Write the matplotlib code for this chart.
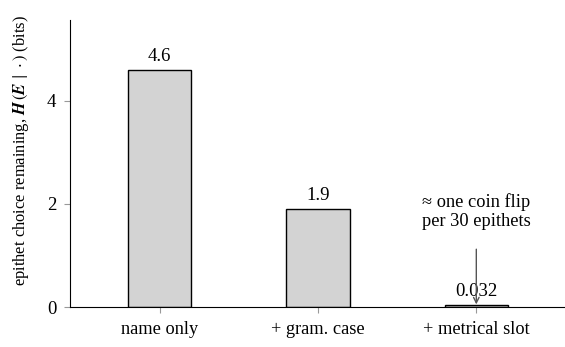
import matplotlib as mpl
mpl.use('Agg')
import matplotlib.pyplot as plt
import numpy as np

plt.rcParams['font.family'] = ['Liberation Serif', 'DejaVu Serif']
plt.rcParams['mathtext.fontset'] = 'stix'

# data
conditions = ['name only', '+ gram. case', '+ metrical slot']
entropy_bits = [4.6, 1.9, 0.032]
value_labels = ['4.6', '1.9', '0.032']
note = '≈ one coin flip\nper 30 epithets'

fig, ax = plt.subplots(figsize=(5.65, 3.47), dpi=100)
fig.subplots_adjust(left=0.124, right=1.0, top=0.942, bottom=0.115)

x = np.arange(len(conditions))
ax.bar(x, entropy_bits, width=0.4, color='#d3d3d3', edgecolor='black', linewidth=1.0)

for xi, v, lab in zip(x, entropy_bits, value_labels):
    ax.text(xi, v + 0.1, lab, ha='center', va='bottom', fontsize=13.5)

ax.annotate(note, xy=(x[2], entropy_bits[2] + 0.02), xytext=(x[2], 1.5),
            ha='center', va='bottom', fontsize=13.2, linespacing=1.15,
            arrowprops=dict(arrowstyle='->,head_length=0.3,head_width=0.15',
                            color='#555555', lw=1.0, shrinkA=12, shrinkB=0))

ax.set_xlim(-0.565, 2.56)
ax.set_ylim(0, 4.6 * 1.21)
ax.set_xticks(x)
ax.set_xticklabels(conditions, fontsize=13.2)
ax.set_yticks([0, 2, 4])
ax.tick_params(axis='y', labelsize=13.5, color='#999999', length=4, pad=6)
ax.tick_params(axis='x', color='#999999', length=4, pad=6)
ax.set_ylabel(r'epithet choice remaining, $\mathbfit{H}\,(\mathbfit{E}\,\mid\,\cdot)$ (bits)', fontsize=11.9)
ax.yaxis.set_label_coords(-0.079, 0.547)

for s in ['top', 'right']:
    ax.spines[s].set_visible(False)

fig.savefig('out.png', dpi=100)
